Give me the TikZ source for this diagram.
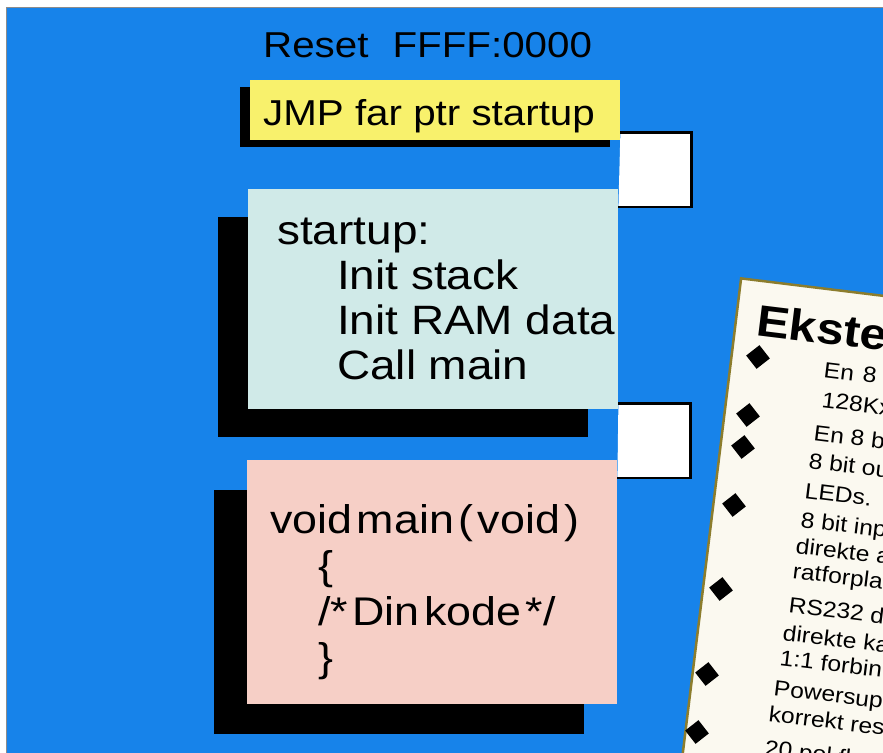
\documentclass[tikz,border=0pt]{standalone}
\usepackage{fontspec}
\setmainfont{Liberation Sans}[FakeStretch=1.12]
\usepackage{xcolor}
\usetikzlibrary{shapes.geometric, shadows, positioning}

\definecolor{screenblue}{RGB}{23,131,234}
\definecolor{jmpyellow}{RGB}{248,241,108}
\definecolor{startcyan}{RGB}{208,234,232}
\definecolor{mainpink}{RGB}{246,207,198}
\definecolor{cardcream}{RGB}{251,249,240}
\definecolor{cardolive}{RGB}{140,125,45}
\newcommand{\cgap}{\hspace{4.5pt}}

\begin{document}
\begin{tikzpicture}[
    x=1pt, y=-1pt,
    box/.style={rectangle, anchor=north west, inner sep=0pt, minimum width=370pt},
    code/.style={anchor=base west, align=left, inner sep=0pt, font=\fontsize{41}{45}\selectfont},
    link/.style={draw=black, fill=white, line width=2.6pt},
    bullet/.style={diamond, fill=black, inner sep=0pt, minimum size=24pt, rotate=-7},
    note/.style={anchor=base west, inner sep=0pt, rotate=-7, font=\fontsize{22}{22}\selectfont}
]
    \useasboundingbox (0,0) rectangle (883,752);
    \clip (0,0) rectangle (883,752);
    \fill[white] (0,0) rectangle (883,752);
    \filldraw[fill=screenblue, draw=black!45, line width=0.8pt] (6,7) rectangle (890,760);

    % program boxes
    \node (reset) [anchor=base west, inner sep=0pt, font=\fontsize{36}{36}\selectfont] at (263,57) {Reset\hspace{24pt}FFFF:0000};
    \node (jmp) [box, fill=jmpyellow, minimum height=60pt, drop shadow={shadow xshift=-10pt, shadow yshift=-7pt, fill=black, opacity=1}] at (250,80) {};
    \node (startup) [box, fill=startcyan, minimum height=220pt, drop shadow={shadow xshift=-30pt, shadow yshift=-28pt, fill=black, opacity=1}] at (248,189) {};
    \node (mainfn) [box, fill=mainpink, minimum height=244pt, drop shadow={shadow xshift=-33pt, shadow yshift=-30pt, fill=black, opacity=1}] at (247,460) {};

    \node (jmptext) [code, font=\fontsize{36}{40}\selectfont] at ([shift={(13,45)}]jmp.north west) {JMP far ptr startup};
    \node (startuptext) [code] at ([shift={(29,190)}]startup.north west)
        {startup:\\ \hspace*{60pt}Init stack\\ \hspace*{60pt}Init RAM data\\ \hspace*{60pt}Call main};
    \node (maintext) [code, font=\fontsize{40}{46}\selectfont] at ([shift={(23,211)}]mainfn.north west)
        {void\cgap main\cgap (\cgap void\cgap )\\ \hspace*{48pt}\{\\ \hspace*{48pt}/*\cgap Din\cgap kode\cgap */\\ \hspace*{48pt}\}};

    % links between the boxes
    \draw[link] ([shift={(0,-8)}]jmp.south east) -| ([shift={(73,18)}]startup.north east) -- ([shift={(0,18)}]startup.north east);
    \draw[link] ([shift={(0,-6)}]startup.south east) -| ([shift={(73,18)}]mainfn.north east) -- ([shift={(0,18)}]mainfn.north east);

    % the card on the right
    \node (card) [rectangle, rotate=-7, anchor=north west, fill=cardcream, draw=cardolive, line width=2.5pt, minimum width=400pt, minimum height=600pt] at (740,277) {};
    \node (cardtitle) [note, font=\fontsize{44}{44}\selectfont\bfseries] at (755,335) {Ekste};

    \node (b1) [bullet] at (758,357) {};
    \node (b2) [bullet] at (748,415) {};
    \node (b3) [bullet] at (743,447) {};
    \node (b4) [bullet] at (734,505) {};
    \node (b5) [bullet] at (721,589) {};
    \node (b6) [bullet] at (707,674) {};
    \node (b7) [bullet] at (697,732) {};

    \node (n1) [note] at (823,377) {En\hspace{9pt}8};
    \node (n2) [note] at (821,407) {128Kx};
    \node (n3) [note] at (813,440) {En 8 b};
    \node (n4) [note] at (808,468) {8 bit ou};
    \node (n5) [note] at (804,498) {LEDs.};
    \node (n6) [note] at (800,527) {8 bit inp};
    \node (n7) [note] at (795,553) {direkte\hspace{7pt}a};
    \node (n8) [note] at (792,578) {ratforpla};
    \node (n9) [note] at (788,612) {RS232 d};
    \node (n10) [note] at (782,640) {direkte\hspace{7pt}ka};
    \node (n11) [note] at (779,665) {1:1 forbin};
    \node (n12) [note] at (773,695) {Powersup};
    \node (n13) [note] at (768,721) {korrekt res};
    \node (n14) [note] at (764,755) {20 pol fl};
\end{tikzpicture}
\end{document}
